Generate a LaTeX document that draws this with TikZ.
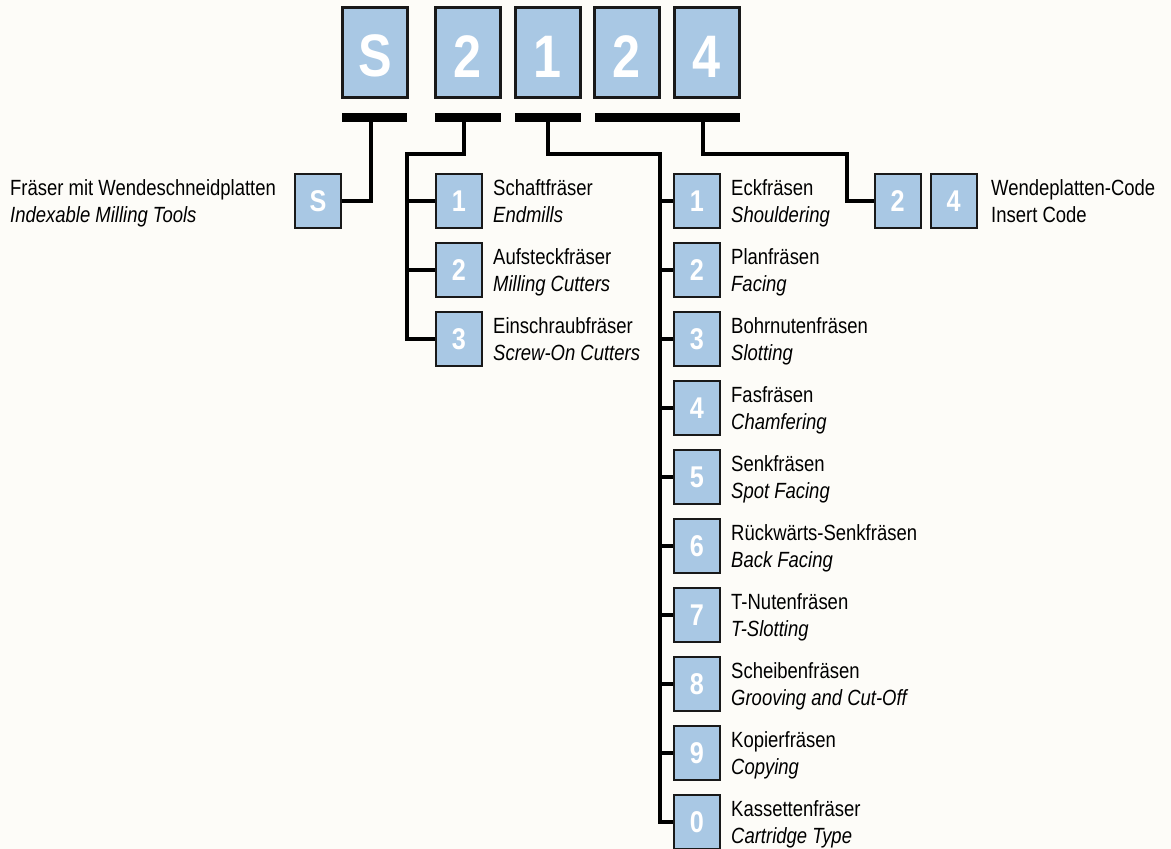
\documentclass[tikz,border=0pt]{standalone}
\usepackage{fontspec}
\setmainfont{Liberation Sans}[FakeStretch=0.84]
\usepackage{xcolor}
\definecolor{codeblue}{RGB}{169,200,228}
\definecolor{paper}{RGB}{253,252,248}
\tikzstyle{code}=[draw=black!90,fill=codeblue,text=white,inner sep=0]
\tikzstyle{code big}=[code,line width=3pt,minimum width=65pt,minimum height=90pt,text height=49pt,font=\fontsize{60}{60}\selectfont\bfseries]
\tikzstyle{code small}=[code,line width=2pt,minimum width=46pt,minimum height=54pt,font=\fontsize{30}{30}\selectfont\bfseries]
\tikzstyle{bar}=[fill=black,minimum height=9pt,inner sep=0]
\tikzstyle{tree}=[line width=3.5pt]
\tikzstyle{de}=[anchor=base west,inner sep=0,font=\fontsize{22}{27}\selectfont]
\tikzstyle{en}=[de,font=\fontsize{22}{27}\selectfont\itshape]

\begin{document}
\begin{tikzpicture}[x=1pt,y=-1pt]
		\path[use as bounding box,fill=paper] (0,0) rectangle (1171,849);

		\node[code big](cS) at (375,52.5){S};
		\node[code big](c2) at (468,52.5){2};
		\node[code big](c1) at (547.5,52.5){1};
		\node[code big](c2b) at (627,52.5){2};
		\node[code big](c4) at (707,52.5){4};

		\node[bar,minimum width=65pt](bS) at (374.5,117.5){};
		\node[bar,minimum width=66pt](b2) at (468,117.5){};
		\node[bar,minimum width=66pt](b1) at (548,117.5){};
		\node[bar,minimum width=145pt](b24) at (667.5,117.5){};

		\coordinate (j2) at (407,154);
		\coordinate (j1) at (660,154);
		\coordinate (j24) at (847,154);

		\node[code small](sS) at (318,201){S};

		\node[code small](s21) at (459,201){1};
		\node[code small](s22) at (459,270){2};
		\node[code small](s23) at (459,339){3};

		\node[code small](s11) at (697,201){1};
		\node[code small](s12) at (697,270){2};
		\node[code small](s13) at (697,339){3};
		\node[code small](s14) at (697,408){4};
		\node[code small](s15) at (697,477){5};
		\node[code small](s16) at (697,546){6};
		\node[code small](s17) at (697,615){7};
		\node[code small](s18) at (697,684){8};
		\node[code small](s19) at (697,753){9};
		\node[code small](s10) at (697,822){0};

		\node[code small](s242) at (897.5,201){2};
		\node[code small](s244) at (953.5,201){4};
% S
		\draw[tree] ([xshift=-3.5pt]bS.south) |- (sS.east);
% 2 to tool types
		\draw[tree] ([xshift=-4pt]b2.south) |- (j2) |- (s23.west);
		\draw[tree] (j2 |- s21.west) -- (s21.west);
		\draw[tree] (j2 |- s22.west) -- (s22.west);
% 1 to applications
		\draw[tree] (b1.south) |- (j1) |- (s10.west);
		\draw[tree] (j1 |- s11.west) -- (s11.west);
		\draw[tree] (j1 |- s12.west) -- (s12.west);
		\draw[tree] (j1 |- s13.west) -- (s13.west);
		\draw[tree] (j1 |- s14.west) -- (s14.west);
		\draw[tree] (j1 |- s15.west) -- (s15.west);
		\draw[tree] (j1 |- s16.west) -- (s16.west);
		\draw[tree] (j1 |- s17.west) -- (s17.west);
		\draw[tree] (j1 |- s18.west) -- (s18.west);
		\draw[tree] (j1 |- s19.west) -- (s19.west);
% 24 to insert code
		\draw[tree] ([xshift=35.5pt]b24.south) |- (j24) |- (s242.west);

		\node[de](tSa) at (10,195){Fräser mit Wendeschneidplatten};
		\node[en](tSb) at (10,222){Indexable Milling Tools};

		\node[de](t21a) at (493,195){Schaftfräser};
		\node[en](t21b) at (493,222){Endmills};
		\node[de](t22a) at (493,264){Aufsteckfräser};
		\node[en](t22b) at (493,291){Milling Cutters};
		\node[de](t23a) at (493,333){Einschraubfräser};
		\node[en](t23b) at (493,360){Screw-On Cutters};

		\node[de](t11a) at (731,195){Eckfräsen};
		\node[en](t11b) at (731,222){Shouldering};
		\node[de](t12a) at (731,264){Planfräsen};
		\node[en](t12b) at (731,291){Facing};
		\node[de](t13a) at (731,333){Bohrnutenfräsen};
		\node[en](t13b) at (731,360){Slotting};
		\node[de](t14a) at (731,402){Fasfräsen};
		\node[en](t14b) at (731,429){Chamfering};
		\node[de](t15a) at (731,471){Senkfräsen};
		\node[en](t15b) at (731,498){Spot Facing};
		\node[de](t16a) at (731,540){Rückwärts-Senkfräsen};
		\node[en](t16b) at (731,567){Back Facing};
		\node[de](t17a) at (731,609){T-Nutenfräsen};
		\node[en](t17b) at (731,636){T-Slotting};
		\node[de](t18a) at (731,678){Scheibenfräsen};
		\node[en](t18b) at (731,705){Grooving and Cut-Off};
		\node[de](t19a) at (731,747){Kopierfräsen};
		\node[en](t19b) at (731,774){Copying};
		\node[de](t10a) at (731,816){Kassettenfräser};
		\node[en](t10b) at (731,843){Cartridge Type};

		\node[de](t24a) at (991,195){Wendeplatten-Code};
		\node[de](t24b) at (991,222){Insert Code};
	\end{tikzpicture}
\end{document}
